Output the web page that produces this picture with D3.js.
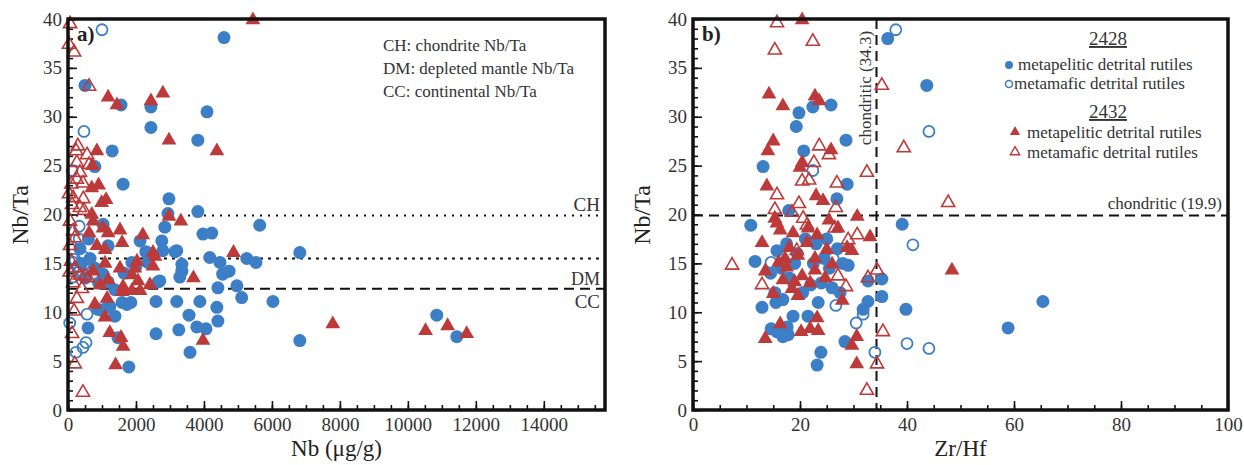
<!DOCTYPE html>
<meta charset="utf-8">
<script src="https://d3js.org/d3.v7.min.js"></script>
<style>
  body { margin: 0; background: #fff; }
  text { font-family: "Liberation Serif", "Times New Roman", serif; }
</style>
<div id="my_dataviz"></div>
<script>
// ---- data ----
// panel a) Nb (ug/g) vs Nb/Ta
var aPelitic2428 = [[4590,38.1],[500,33.2],[1560,31.2],[2440,31.0],[2440,28.9],[4090,30.5],[3820,27.6],[1300,26.5],[790,24.9],[1620,23.1],[2970,21.6],[2940,20.1],[3820,20.3],[5640,18.9],[2850,18.7],[1030,19.0],[3970,18.0],[4230,18.1],[2120,17.3],[2760,17.3],[1180,16.8],[2290,16.2],[3200,16.3],[4170,15.6],[4470,15.1],[5260,15.5],[5530,15.1],[6820,16.1],[4740,14.2],[4550,13.9],[4410,12.5],[4970,12.7],[5110,11.5],[6030,11.1],[4380,10.5],[4410,9.1],[3880,11.1],[3200,11.1],[2590,11.1],[3290,13.6],[3350,14.9],[3150,16.2],[3560,9.7],[3790,8.5],[4060,8.3],[3260,8.2],[2590,7.8],[3590,5.9],[6820,7.1],[1790,4.4],[2650,13.1],[2320,16.1],[2000,14.7],[1380,9.6],[880,10.3],[590,8.4],[1730,10.8],[1150,10.5],[1000,10.2],[1230,10.6],[1590,11.0],[1850,11.0],[1030,13.9],[1180,13.1],[2350,15.1],[2700,13.2],[1880,15.1],[1380,12.3],[1470,7.4],[10850,9.7],[11440,7.5],[2790,16.3],[3350,14.2],[400,15.0],[650,15.5],[500,13.5],[800,14.5],[1650,14.0],[350,16.5],[600,17.5],[900,13.0]];
var aMafic2428 = [[1000,38.9],[470,28.5],[120,24.5],[330,18.8],[50,8.9],[235,5.9],[440,6.4],[530,6.9],[300,14.7],[440,15.7],[330,17.5],[150,15.1],[590,14.4],[560,9.8],[200,15.4],[470,14.9],[320,14.1],[150,13.6]];
var aPelitic2432 = [[5440,39.8],[1180,31.9],[1440,31.1],[2440,31.5],[2790,32.3],[2970,27.5],[4380,26.4],[850,26.4],[720,24.9],[900,22.9],[700,22.6],[1120,21.4],[990,21.1],[2970,19.7],[3320,19.2],[700,19.9],[740,19.2],[1030,18.5],[1180,18.0],[1530,18.3],[1590,17.0],[2200,17.8],[2500,16.0],[4870,16.0],[620,18.0],[850,16.7],[1090,16.3],[740,14.1],[790,10.7],[1090,14.9],[1150,11.3],[1180,13.2],[1090,9.4],[1230,7.8],[1530,14.4],[1560,7.3],[1620,6.4],[1400,4.5],[1590,12.0],[1620,12.5],[1880,13.7],[1970,14.4],[2030,15.1],[2060,13.1],[2120,12.1],[1880,12.1],[2410,12.7],[2500,14.6],[2560,15.6],[3690,13.4],[3970,7.0],[7790,8.7],[10520,8.0],[11170,8.5],[11730,7.7],[940,12.7]];
var aMafic2432 = [[60,39.4],[30,37.3],[180,36.5],[620,33.0],[290,26.9],[240,26.4],[560,26.0],[260,25.2],[620,25.0],[350,24.2],[260,23.5],[440,23.1],[150,21.6],[120,20.9],[350,20.6],[470,20.3],[60,19.2],[150,18.2],[60,16.7],[90,15.1],[200,14.4],[350,13.7],[500,13.6],[410,12.3],[260,11.3],[180,10.0],[120,7.7],[200,4.6],[440,1.7],[590,13.4],[150,12.9],[100,23.0],[30,22.0],[450,21.5],[200,17.5],[50,14.0]];

// panel b) Zr/Hf vs Nb/Ta
var bPelitic2428 = [[36.4,38.0],[43.7,33.2],[19.8,30.4],[22.4,31.0],[25.8,31.2],[19.3,29.0],[28.6,27.6],[20.7,26.5],[13.1,24.9],[28.8,23.1],[26.9,21.6],[17.9,20.4],[10.8,18.9],[39.1,19.0],[11.6,15.2],[12.9,10.5],[14.6,8.3],[23.2,4.6],[23.9,5.9],[21.5,9.6],[17.6,8.5],[18.7,9.6],[16.8,7.5],[17.8,7.7],[15.7,8.0],[28.4,7.0],[23.4,11.0],[32.7,11.1],[31.8,10.3],[35.3,11.6],[35.3,13.4],[32.7,13.2],[39.8,10.3],[15.7,16.3],[15.5,11.0],[16.8,11.3],[58.9,8.4],[65.4,11.1],[15.3,12.0],[16.5,14.5],[18.0,13.5],[19.5,16.0],[21.0,17.5],[22.5,15.0],[24.0,13.0],[25.5,14.5],[27.0,16.5],[28.0,15.0],[26.0,12.5],[20.5,12.0],[17.5,17.0],[23.0,17.0],[19.0,15.0],[29.0,14.8],[14.5,14.0],[22.0,12.8],[25.0,17.5],[27.5,12.0],[24.5,15.5]];
var bMafic2428 = [[37.9,38.9],[44.1,28.5],[22.4,24.5],[41.1,16.9],[40.0,6.8],[44.1,6.3],[34.0,5.9],[30.5,8.9],[31.8,9.8],[26.7,10.7],[14.6,15.1],[26.2,15.5]];
var bPelitic2432 = [[20.4,39.8],[14.2,32.2],[16.8,31.0],[22.8,32.0],[23.6,31.5],[15.0,27.4],[14.0,26.4],[25.8,26.5],[20.4,25.2],[20.0,24.7],[13.8,22.8],[23.0,21.8],[24.3,21.3],[30.7,19.7],[15.3,19.5],[25.4,19.3],[15.7,19.0],[16.3,18.3],[18.7,18.0],[21.5,18.5],[23.2,17.8],[27.1,18.5],[33.1,17.6],[12.9,17.0],[21.3,17.0],[25.0,16.3],[28.8,16.5],[29.7,16.2],[17.2,15.4],[19.6,15.7],[22.8,15.4],[13.5,14.1],[15.0,11.8],[16.8,13.2],[18.5,12.3],[19.6,11.6],[20.4,13.6],[21.9,12.9],[22.8,14.2],[24.7,13.4],[27.9,11.1],[16.3,8.7],[20.2,7.9],[21.9,8.2],[23.4,8.0],[23.2,9.3],[13.5,7.2],[29.7,6.5],[30.6,7.4],[30.6,4.6],[48.4,14.2],[17.5,14.5],[18.0,16.5],[26.0,14.8],[16.0,15.0],[19.0,13.0]];
var bMafic2432 = [[15.7,39.5],[15.3,36.7],[22.4,37.6],[35.3,33.1],[39.4,26.7],[23.6,26.9],[25.4,26.0],[22.6,25.2],[20.4,23.3],[21.7,23.4],[26.9,23.1],[32.5,24.2],[15.7,21.9],[19.8,21.0],[26.7,20.6],[15.3,20.4],[18.5,20.1],[20.6,19.5],[47.7,21.1],[7.3,14.7],[12.9,12.7],[27.1,13.6],[28.6,12.5],[29.0,17.3],[30.7,17.8],[32.7,13.4],[34.4,14.2],[35.5,7.9],[34.4,4.6],[32.5,1.9],[26.5,18.5],[21.3,18.8],[19.4,16.2]];

// reference values
var refA = [{v: 19.9, dash: "2,6"}, {v: 15.5, dash: "3,5"}, {v: 12.4, dash: "10,6"}];
var refBx = 34.3, refBy = 19.9;
var aXTicks = [0, 2000, 4000, 6000, 8000, 10000, 12000, 14000];
var bXTicks = [0, 20, 40, 60, 80, 100];
var yTicks = [0, 5, 10, 15, 20, 25, 30, 35, 40];
var notesA = ["CH: chondrite Nb/Ta", "DM: depleted mantle Nb/Ta", "CC: continental Nb/Ta"];

var blue = "#3d7fc6", red = "#bd3a3a", ink = "#333";

var svg = d3.select("#my_dataviz")
  .append("svg")
    .attr("width", 1244)
    .attr("height", 465);

function drawPanel(p) {
  var g = svg.append("g");

  var x = d3.scaleLinear().domain(p.xDomain).range([p.left, p.right]);
  var y = d3.scaleLinear().domain([0, 40]).range([410, 19]);

  // minor + major ticks, pointing inside
  var xAxis = d3.axisBottom(x).tickValues(d3.range(0, p.xDomain[1], p.xMinor))
      .tickSize(-5).tickFormat("");
  g.append("g").attr("transform", "translate(0,410)").call(xAxis);
  g.append("g").attr("transform", "translate(0,410)")
    .call(d3.axisBottom(x).tickValues(p.xTicks).tickSize(-9).tickPadding(8)
      .tickFormat(d3.format("d")));

  g.append("g").attr("transform", "translate(" + p.left + ",0)")
    .call(d3.axisLeft(y).tickValues(d3.range(0, 41, 1)).tickSize(-5).tickFormat(""));
  g.append("g").attr("transform", "translate(" + p.left + ",0)")
    .call(d3.axisLeft(y).tickValues(yTicks).tickSize(-9).tickPadding(6));

  g.selectAll(".domain").remove();
  g.selectAll(".tick line").attr("stroke", "#111").attr("stroke-width", 1.6);
  g.selectAll(".tick text")
    .attr("fill", ink)
    .style("font-size", "19px")
    .style("font-family", "'Liberation Serif', serif");

  var layer = g.append("g");

  p.draw(layer, x, y);

  // series
  layer.selectAll(null).data(p.pel2428).enter().append("circle")
    .attr("cx", d => x(d[0])).attr("cy", d => y(d[1]))
    .attr("r", 6.5).attr("fill", blue);
  layer.selectAll(null).data(p.maf2428).enter().append("circle")
    .attr("cx", d => x(d[0])).attr("cy", d => y(d[1]))
    .attr("r", 5.5).attr("fill", "none").attr("stroke", blue).attr("stroke-width", 1.8);
  var tri = d3.symbol().type(d3.symbolTriangle).size(95);
  layer.selectAll(null).data(p.pel2432).enter().append("path")
    .attr("d", tri)
    .attr("transform", d => "translate(" + x(d[0]) + "," + (y(d[1]) - 1) + ")")
    .attr("fill", red);
  var triO = d3.symbol().type(d3.symbolTriangle).size(75);
  layer.selectAll(null).data(p.maf2432).enter().append("path")
    .attr("d", triO)
    .attr("transform", d => "translate(" + x(d[0]) + "," + (y(d[1]) - 1) + ")")
    .attr("fill", "none").attr("stroke", red).attr("stroke-width", 1.6);

  // frame
  g.append("rect")
    .attr("x", p.left).attr("y", 19)
    .attr("width", p.right - p.left).attr("height", 391)
    .attr("fill", "none").attr("stroke", "#111").attr("stroke-width", 3.5);

  g.append("text").attr("x", p.left + 9).attr("y", 41)
    .style("font-size", "21px").style("font-weight", "bold").attr("fill", "#222")
    .text(p.tag);

  g.append("text")
    .attr("transform", "translate(" + p.yTitleX + ",215) rotate(-90)")
    .attr("text-anchor", "middle").attr("fill", "#222")
    .style("font-size", "24px").text("Nb/Ta");
  g.append("text")
    .attr("x", (p.left + p.right) / 2).attr("y", 456)
    .attr("text-anchor", "middle").attr("fill", "#222")
    .style("font-size", "23px").text(p.xTitle);
}

// panel a
drawPanel({
  left: 68, right: 605, xDomain: [0, 15800], xMinor: 500, xTicks: aXTicks,
  tag: "a)", xTitle: "Nb (\u03bcg/g)", yTitleX: 28,
  pel2428: aPelitic2428, maf2428: aMafic2428, pel2432: aPelitic2432, maf2432: aMafic2432,
  draw: function(layer, x, y) {
    refA.forEach(function(r) {
      layer.append("line")
        .attr("x1", x(0)).attr("x2", x(15800))
        .attr("y1", y(r.v)).attr("y2", y(r.v))
        .attr("stroke", "#111").attr("stroke-width", 2)
        .attr("stroke-dasharray", r.dash);
    });
    layer.append("text").attr("x", 600).attr("y", y(refA[0].v) - 4)
      .attr("text-anchor", "end").attr("fill", ink).style("font-size", "19px").text("CH");
    layer.append("text").attr("x", 600).attr("y", y(refA[2].v) - 4)
      .attr("text-anchor", "end").attr("fill", ink).style("font-size", "18px").text("DM");
    layer.append("text").attr("x", 600).attr("y", y(refA[2].v) + 19)
      .attr("text-anchor", "end").attr("fill", ink).style("font-size", "19px").text("CC");
    notesA.forEach(function(t, i) {
      layer.append("text").attr("x", 383).attr("y", 51 + i * 23)
        .attr("fill", ink).style("font-size", "17px").text(t);
    });
  }
});

// panel b
drawPanel({
  left: 693, right: 1228, xDomain: [0, 100], xMinor: 5, xTicks: bXTicks,
  tag: "b)", xTitle: "Zr/Hf", yTitleX: 650,
  pel2428: bPelitic2428, maf2428: bMafic2428, pel2432: bPelitic2432, maf2432: bMafic2432,
  draw: function(layer, x, y) {
    layer.append("line")
      .attr("x1", x(refBx)).attr("x2", x(refBx)).attr("y1", y(40)).attr("y2", y(0))
      .attr("stroke", "#111").attr("stroke-width", 2).attr("stroke-dasharray", "10,6");
    layer.append("line")
      .attr("x1", x(0)).attr("x2", x(100)).attr("y1", y(refBy)).attr("y2", y(refBy))
      .attr("stroke", "#111").attr("stroke-width", 2).attr("stroke-dasharray", "10,6");
    layer.append("text")
      .attr("transform", "translate(" + (x(refBx) - 6) + ",88) rotate(-90)")
      .attr("text-anchor", "middle").attr("fill", ink).style("font-size", "17px")
      .text("chondritic (" + refBx + ")");
    layer.append("text").attr("x", 1222).attr("y", y(refBy) - 6)
      .attr("text-anchor", "end").attr("fill", ink).style("font-size", "17px")
      .text("chondritic (" + refBy + ")");

    // legend
    var leg = layer.append("g");
    [["2428", 45], ["2432", 118]].forEach(function(h) {
      leg.append("text").attr("x", 1108).attr("y", h[1]).attr("text-anchor", "middle")
        .attr("fill", ink).style("font-size", "19px")
        .style("text-decoration", "underline").text(h[0]);
    });
    leg.append("circle").attr("cx", 1009).attr("cy", 65).attr("r", 4).attr("fill", blue);
    leg.append("text").attr("x", 1018).attr("y", 70).attr("fill", ink)
      .style("font-size", "17px").text("metapelitic detrital rutiles");
    leg.append("circle").attr("cx", 1009).attr("cy", 84).attr("r", 3.5)
      .attr("fill", "none").attr("stroke", blue).attr("stroke-width", 1.6);
    leg.append("text").attr("x", 1014).attr("y", 89).attr("fill", ink)
      .style("font-size", "17px").text("metamafic detrital rutiles");
    leg.append("path").attr("d", d3.symbol().type(d3.symbolTriangle).size(45))
      .attr("transform", "translate(1015,132)").attr("fill", red);
    leg.append("text").attr("x", 1027).attr("y", 138).attr("fill", ink)
      .style("font-size", "17px").text("metapelitic detrital rutiles");
    leg.append("path").attr("d", d3.symbol().type(d3.symbolTriangle).size(38))
      .attr("transform", "translate(1015,152)").attr("fill", "none")
      .attr("stroke", red).attr("stroke-width", 1.4);
    leg.append("text").attr("x", 1027).attr("y", 158).attr("fill", ink)
      .style("font-size", "17px").text("metamafic detrital rutiles");
  }
});
</script>
